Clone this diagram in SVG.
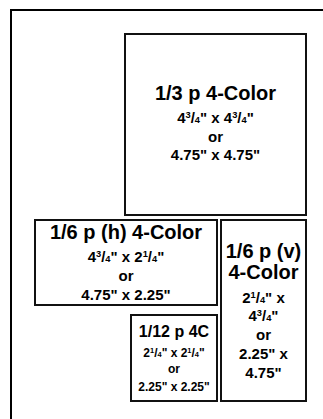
<svg xmlns="http://www.w3.org/2000/svg" width="323" height="419" viewBox="0 0 323 419">
<style>
.box{fill:#fff;stroke:#111;stroke-width:2}
text{font-family:"Liberation Sans",Arial,sans-serif;font-weight:bold;fill:#000;text-anchor:middle}
.t{font-size:20px}
.s{font-size:15px}
.xs{font-size:12px}
.f{font-size:62%}
</style>
<rect width="323" height="419" fill="#fff"/>
<path d="M11,419 V10 H323" fill="none" stroke="#000" stroke-width="2"/>
<g id="connectors"></g>
<g id="third">
<rect class="box" x="125" y="34" width="181" height="181"/>
<text class="t" x="215.5" y="100">1/3 p 4-Color</text>
<text class="s" x="215.5" y="123">4<tspan class="f" dy="-5">3</tspan><tspan dy="5">/</tspan><tspan class="f">4</tspan>" x 4<tspan class="f" dy="-5">3</tspan><tspan dy="5">/</tspan><tspan class="f">4</tspan>"</text>
<text class="s" x="215.5" y="141.5">or</text>
<text class="s" x="215.5" y="160">4.75" x 4.75"</text>
</g>
<g id="sixth-h">
<rect class="box" x="35" y="220" width="182" height="85"/>
<text class="t" x="126" y="239">1/6 p (h) 4-Color</text>
<text class="s" x="126" y="262">4<tspan class="f" dy="-5">3</tspan><tspan dy="5">/</tspan><tspan class="f">4</tspan>" x 2<tspan class="f" dy="-5">1</tspan><tspan dy="5">/</tspan><tspan class="f">4</tspan>"</text>
<text class="s" x="126" y="281">or</text>
<text class="s" x="126" y="299.5">4.75" x 2.25"</text>
</g>
<g id="sixth-v">
<rect class="box" x="221" y="220" width="85" height="181"/>
<text class="t" x="263.5" y="257.5">1/6 p (v)</text>
<text class="t" x="263.5" y="279">4-Color</text>
<text class="s" x="263.5" y="302.5">2<tspan class="f" dy="-5">1</tspan><tspan dy="5">/</tspan><tspan class="f">4</tspan>" x</text>
<text class="s" x="263.5" y="321">4<tspan class="f" dy="-5">3</tspan><tspan dy="5">/</tspan><tspan class="f">4</tspan>"</text>
<text class="s" x="263.5" y="340">or</text>
<text class="s" x="263.5" y="358.5">2.25" x</text>
<text class="s" x="263.5" y="377.5">4.75"</text>
</g>
<g id="twelfth">
<rect class="box" x="131" y="315" width="86" height="86"/>
<text class="t" x="174" y="336.5" style="font-size:16px">1/12 p 4C</text>
<text class="xs" x="174" y="357">2<tspan class="f" dy="-4">1</tspan><tspan dy="4">/</tspan><tspan class="f">4</tspan>" x 2<tspan class="f" dy="-4">1</tspan><tspan dy="4">/</tspan><tspan class="f">4</tspan>"</text>
<text class="xs" x="174" y="373">or</text>
<text class="xs" x="174" y="391">2.25" x 2.25"</text>
</g>
</svg>
